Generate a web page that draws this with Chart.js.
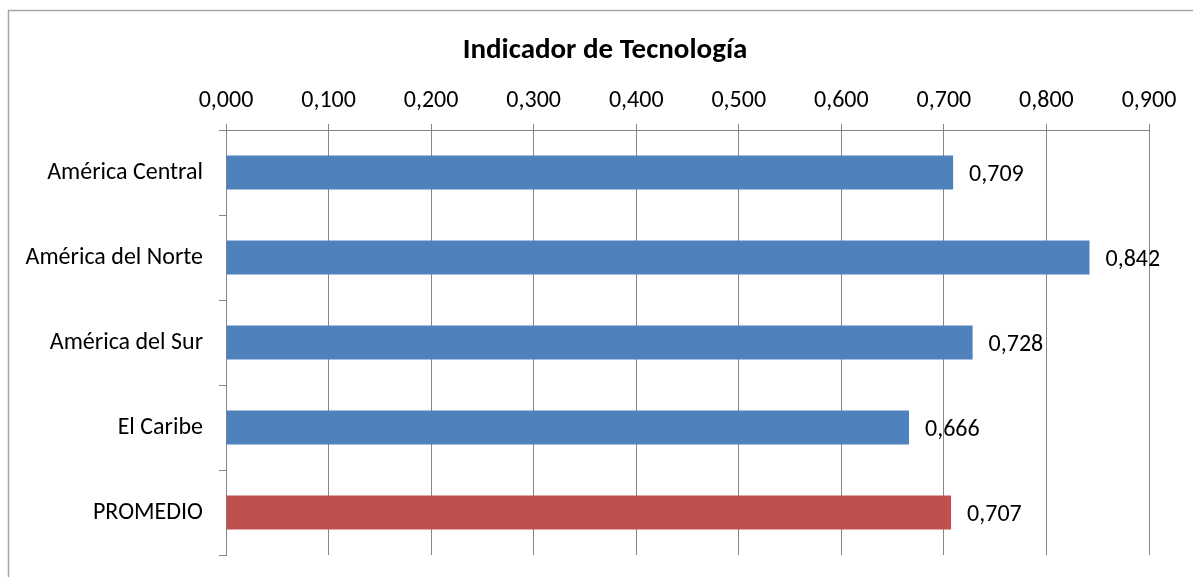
<!DOCTYPE html>
<html>
<head>
<meta charset="utf-8">
<script src="https://cdn.jsdelivr.net/npm/chart.js@4.4.0/dist/chart.umd.min.js"></script>
<style>
html,body{margin:0;padding:0;background:#fff;}
canvas{display:block;}
</style>
</head>
<body>
<canvas id="c" width="1193" height="577"></canvas>
<script>
const chartTitle = "Indicador de Tecnología";
const categories = ["América Central", "América del Norte", "América del Sur", "El Caribe", "PROMEDIO"];
const values = [0.709, 0.842, 0.728, 0.666, 0.707];
const tickValues = [0, 0.1, 0.2, 0.3, 0.4, 0.5, 0.6, 0.7, 0.8, 0.9];

const FONT = "Carlito, Lato, 'Open Sans', sans-serif";
const fmt = v => v.toFixed(3).replace('.', ',');

const framePlugin = {
  id: 'frame',
  beforeDraw(chart) {
    const ctx = chart.ctx;
    ctx.save();
    ctx.strokeStyle = '#a6a6a6';
    ctx.lineWidth = 1.5;
    ctx.beginPath();
    ctx.moveTo(8.5, 577);
    ctx.lineTo(8.5, 10.5);
    ctx.lineTo(1193, 10.5);
    ctx.stroke();
    ctx.fillStyle = '#000';
    ctx.font = "bold 29px " + FONT;
    ctx.textAlign = 'center';
    ctx.textBaseline = 'middle';
    ctx.fillText(chartTitle, 605, 51);
    ctx.restore();
  }
};

const labelPlugin = {
  id: 'valueLabels',
  afterDatasetsDraw(chart) {
    const ctx = chart.ctx;
    const meta = chart.getDatasetMeta(0);
    ctx.save();
    ctx.fillStyle = '#000';
    ctx.font = "24px " + FONT;
    ctx.textAlign = 'left';
    ctx.textBaseline = 'middle';
    meta.data.forEach((bar, i) => {
      ctx.fillText(fmt(values[i]), bar.x + 16, bar.y + 2);
    });
    ctx.restore();
  }
};

new Chart(document.getElementById('c'), {
  type: 'bar',
  data: {
    labels: categories,
    datasets: [{
      data: values,
      backgroundColor: ctx => ctx.dataIndex === categories.length - 1 ? '#C0504D' : '#4F81BD',
      borderWidth: 0,
      barPercentage: 0.4,
      categoryPercentage: 1.0
    }]
  },
  options: {
    indexAxis: 'y',
    responsive: false,
    animation: false,
    events: [],
    layout: { padding: { left: 8, right: 44, top: 70, bottom: 22 } },
    plugins: {
      legend: { display: false },
      title: { display: false },
      tooltip: { enabled: false }
    },
    scales: {
      x: {
        position: 'top',
        min: 0,
        max: 0.9,
        afterBuildTicks: s => { s.ticks = tickValues.map(v => ({ value: v })); },
        afterFit: s => { s.height = 60; },
        ticks: {
          callback: v => fmt(v),
          color: '#000',
          font: { family: FONT, size: 24 },
          padding: 9,
          maxRotation: 0
        },
        grid: { color: '#868686', lineWidth: 1, tickLength: 6, drawOnChartArea: true },
        border: { display: true, color: '#868686', width: 1 }
      },
      y: {
        afterFit: s => { s.width = 218; s.paddingTop = 0; s.paddingBottom = 0; },
        ticks: {
          color: '#000',
          font: { family: FONT, size: 24 },
          padding: 16
        },
        grid: { color: '#868686', lineWidth: 1, tickLength: 7, drawOnChartArea: false, offset: true },
        border: { display: true, color: '#868686', width: 1 }
      }
    }
  },
  plugins: [framePlugin, labelPlugin]
});
</script>
</body>
</html>
